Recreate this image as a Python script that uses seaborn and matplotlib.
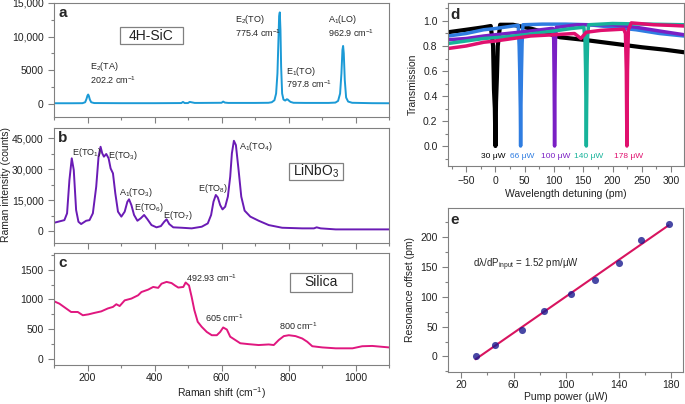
import matplotlib
matplotlib.use("Agg")
import numpy as np
import pandas as pd
import matplotlib.pyplot as plt
from matplotlib.patches import Rectangle
from matplotlib.ticker import MultipleLocator, FuncFormatter
import seaborn as sns

# style
sns.set_style("ticks")
plt.rcParams["font.family"] = ["Liberation Sans", "DejaVu Sans"]
plt.rcParams["mathtext.fontset"] = "custom"
plt.rcParams["mathtext.rm"] = "Liberation Sans"
plt.rcParams["mathtext.it"] = "Liberation Sans:italic"
plt.rcParams["mathtext.bf"] = "Liberation Sans:bold"
plt.rcParams["mathtext.default"] = "regular"

# ---- data: a) 4H-SiC Raman spectrum
sic_shift = [100, 150, 185, 193, 197, 200, 202, 204, 207, 211, 220, 300, 400, 480, 485, 490,
             500, 505, 520, 540, 600, 605, 610, 620, 700, 740, 750, 758, 763, 767, 770, 772,
             774, 776, 778, 781, 785, 790, 795, 798, 801, 806, 815, 850, 920, 940, 948, 954,
             958, 961, 963, 965, 968, 972, 978, 990, 1050, 1100]
sic_counts = [50, 50, 60, 200, 700, 1200, 1350, 1150, 600, 200, 80, 60, 60, 80, 250, 80,
              80, 250, 100, 100, 120, 300, 150, 100, 100, 120, 200, 500, 1500, 4500, 9500, 13000,
              13600, 11000, 5500, 1500, 600, 450, 650, 600, 450, 250, 120, 100, 100, 150, 400, 1500,
              4500, 8000, 8600, 7500, 3500, 900, 300, 120, 60, 50]

# ---- data: b) LiNbO3 Raman spectrum
ln_shift = [100, 131, 139, 146, 153, 159, 166, 173, 181, 196, 206, 216, 226, 233, 239, 244,
            249, 256, 263, 269, 276, 283, 291, 301, 311, 319, 324, 331, 339, 349, 359, 369,
            379, 391, 406, 419, 429, 436, 444, 456, 481, 511, 541, 559, 569, 576, 583, 589,
            596, 603, 611, 619, 626, 631, 637, 643, 651, 659, 669, 686, 711, 741, 781, 841,
            876, 884, 896, 941, 1021, 1100]
ln_counts = [4000, 5300, 8600, 24700, 35300, 29600, 10200, 4500, 3400, 5000, 5300, 8600, 21500, 36100, 40900, 37700,
             36100, 37400, 35300, 30400, 28000, 18300, 9400, 7000, 9400, 14200, 15400, 12600, 7800, 5000, 6200, 7800,
             5700, 2900, 1800, 2400, 4500, 5700, 3400, 1800, 1600, 1300, 2100, 3700, 7800, 14200, 17500, 16300,
             12600, 10500, 11800, 16700, 26400, 37700, 43800, 41700, 29600, 16700, 9900, 7000, 5000, 2900, 1600, 1300,
             1300, 1800, 1300, 800, 800, 800]

# ---- data: c) silica Raman spectrum
si_shift = [100, 116, 136, 151, 171, 186, 203, 221, 241, 261, 276, 286, 296, 311, 331, 351,
            361, 381, 396, 411, 421, 436, 451, 461, 471, 486, 493, 503, 511, 519, 529, 541,
            556, 571, 586, 596, 605, 616, 626, 641, 656, 681, 711, 741, 756, 771, 786, 801,
            821, 841, 856, 871, 901, 941, 991, 1020, 1050, 1080, 1100]
si_counts = [970, 930, 850, 790, 790, 735, 750, 775, 800, 850, 875, 920, 890, 985, 1015, 1070,
             1125, 1165, 1210, 1195, 1265, 1295, 1275, 1235, 1200, 1210, 1285, 1235, 1040, 820, 625, 540,
             455, 400, 400, 455, 530, 495, 375, 320, 265, 250, 235, 245, 235, 320, 385, 400,
             385, 345, 290, 215, 195, 180, 180, 215, 220, 205, 195]

# ---- data: d) transmission vs detuning at five pump powers
pump_labels = ["30 μW", "66 μW", "100 μW", "140 μW", "178 μW"]
label_pos = [-4, 46, 103, 159, 227]
det_30 = [-81, -50, -20, -8, -4, -2.5, -1, 0, 1, 2.5, 4, 8, 30, 60, 90, 110, 150, 200, 250, 290, 322]
tr_30 = [0.91, 0.93, 0.95, 0.96, 0.80, 0.45, 0.30, 0.0, 0.35, 0.55, 0.80, 0.97, 0.97, 0.94, 0.90, 0.87, 0.85, 0.82, 0.79, 0.77, 0.75]
det_66 = [-81, -50, -20, 0, 30, 39, 40.5, 41.5, 42.5, 43, 43.5, 44.5, 45.5, 47, 80, 120, 160, 200, 240, 280, 322]
tr_66 = [0.88, 0.90, 0.93, 0.94, 0.96, 0.965, 0.80, 0.60, 0.30, 0.0, 0.30, 0.60, 0.82, 0.97, 0.975, 0.975, 0.97, 0.95, 0.93, 0.90, 0.88]
det_100 = [-81, -50, -20, 20, 60, 95, 98, 99.5, 100.3, 101, 101.7, 102.5, 104, 107, 140, 200, 240, 280, 322]
tr_100 = [0.85, 0.86, 0.88, 0.90, 0.92, 0.94, 0.94, 0.85, 0.50, 0.0, 0.50, 0.85, 0.95, 0.95, 0.97, 0.97, 0.95, 0.92, 0.89]
det_140 = [-81, -50, -20, 10, 50, 100, 130, 151, 153, 154, 154.7, 155.2, 155.7, 156.5, 157.5, 159, 200, 260, 322]
tr_140 = [0.82, 0.84, 0.86, 0.87, 0.89, 0.92, 0.94, 0.95, 0.85, 0.60, 0.30, 0.0, 0.30, 0.65, 0.88, 0.97, 0.98, 0.975, 0.97]
det_178 = [-81, -50, -20, 0, 30, 60, 100, 135, 146, 155, 180, 219, 222, 223.5, 224.5, 225.5, 227, 232, 270, 300, 322]
tr_178 = [0.78, 0.80, 0.83, 0.84, 0.86, 0.88, 0.89, 0.90, 0.86, 0.91, 0.925, 0.935, 0.90, 0.60, 0.0, 0.60, 0.93, 0.985, 0.97, 0.965, 0.96]

# ---- data: e) resonance offset vs pump power
pump_power = [31, 46, 66, 83, 104, 122, 140, 157, 178]
res_offset = [0, 20, 44, 77, 104, 129, 156, 195, 223]

W, H = 685, 404
fig = plt.figure(figsize=(W / 100, H / 100), dpi=100)


def box(left, top, right, bottom):
    return [left / W, (H - bottom) / H, (right - left) / W, (bottom - top) / H]


def comma_fmt(v, pos):
    return f"{v:,.0f}" if abs(v) >= 10000 else f"{v:.0f}"


def style_axes(ax):
    for s in ax.spines.values():
        s.set_color("#808080")
        s.set_linewidth(0.8)
    ax.tick_params(which="both", direction="out", colors="#808080", labelcolor="#222222",
                   labelsize=7.5, width=0.8)
    ax.tick_params(which="major", length=4)
    ax.tick_params(which="minor", length=2.5)


def label_box(ax, x, y, w, h, txt):
    ax.add_patch(Rectangle((x, y), w, h, transform=ax.transAxes, fill=False,
                           edgecolor="#808080", linewidth=0.9, zorder=5))
    ax.text(x + w / 2, y + h / 2, txt, transform=ax.transAxes, ha="center", va="center",
            fontsize=10, color="#222222")


def panel_letter(ax, s):
    ax.text(0.012, 0.97, s, transform=ax.transAxes, ha="left", va="top",
            fontsize=11, fontweight="bold")


ax_a = fig.add_axes(box(54, 3, 389, 117))
ax_b = fig.add_axes(box(54, 128, 389, 243))
ax_c = fig.add_axes(box(54, 253, 389, 365))
ax_d = fig.add_axes(box(448, 3, 684, 166))
ax_e = fig.add_axes(box(448, 208, 683, 372))

# a
sns.lineplot(x=sic_shift, y=sic_counts, ax=ax_a, color="#1b9ad6", lw=1.4, estimator=None)
ax_a.set_ylim(-2000, 15000)
ax_a.yaxis.set_major_locator(MultipleLocator(5000))
ax_a.yaxis.set_minor_locator(MultipleLocator(2500))
ax_a.yaxis.set_major_formatter(FuncFormatter(comma_fmt))
label_box(ax_a, 0.197, 0.64, 0.188, 0.149, "4H-SiC")
ax_a.text(206, 2600, "E$_2$(TA)\n202.2 cm$^{-1}$", fontsize=6.5, va="bottom", linespacing=1.1)
ax_a.text(640, 9700, "E$_2$(TO)\n775.4 cm$^{-1}$", fontsize=6.5, va="bottom", linespacing=1.1)
ax_a.text(792, 2000, "E$_1$(TO)\n797.8 cm$^{-1}$", fontsize=6.5, va="bottom", linespacing=1.1)
ax_a.text(917, 9700, "A$_1$(LO)\n962.9 cm$^{-1}$", fontsize=6.5, va="bottom", linespacing=1.1)
panel_letter(ax_a, "a")

# b
sns.lineplot(x=ln_shift, y=ln_counts, ax=ax_b, color="#6a1bb5", lw=1.4, estimator=None)
ax_b.set_ylim(-5800, 50000)
ax_b.yaxis.set_major_locator(MultipleLocator(15000))
ax_b.yaxis.set_minor_locator(MultipleLocator(7500))
ax_b.yaxis.set_major_formatter(FuncFormatter(comma_fmt))
label_box(ax_b, 0.701, 0.548, 0.161, 0.148, "LiNbO$_3$")
for xx, yy, t in [(155, 37900, "E(TO$_1$)"), (260, 36500, "E(TO$_3$)"), (295, 18600, "A$_1$(TO$_3$)"),
                  (340, 11600, "E(TO$_6$)"), (426, 7700, "E(TO$_7$)"), (530, 20700, "E(TO$_8$)"),
                  (652, 41200, "A$_1$(TO$_4$)")]:
    ax_b.text(xx, yy, t, fontsize=6.5, va="center")
panel_letter(ax_b, "b")

# c
sns.lineplot(x=si_shift, y=si_counts, ax=ax_c, color="#e0177f", lw=1.4, estimator=None)
ax_c.set_ylim(-100, 1780)
ax_c.yaxis.set_major_locator(MultipleLocator(500))
ax_c.yaxis.set_minor_locator(MultipleLocator(250))
ax_c.yaxis.set_major_formatter(FuncFormatter(comma_fmt))
label_box(ax_c, 0.704, 0.652, 0.185, 0.170, "Silica")
ax_c.text(495, 1366, "492.93 cm$^{-1}$", fontsize=6.5, va="center")
ax_c.text(551, 690, "605 cm$^{-1}$", fontsize=6.5, va="center")
ax_c.text(771, 552, "800 cm$^{-1}$", fontsize=6.5, va="center")
panel_letter(ax_c, "c")

for ax in (ax_a, ax_b, ax_c):
    ax.set_xlim(100, 1100)
    ax.xaxis.set_major_locator(MultipleLocator(200))
    ax.xaxis.set_minor_locator(MultipleLocator(100))
    ax.set_ylabel("")
    style_axes(ax)
ax_a.tick_params(labelbottom=False)
ax_b.tick_params(labelbottom=False)
ax_c.tick_params(axis="x", pad=1.5)
ax_c.set_xlabel("Raman shift (cm$^{-1}$)", fontsize=7.5, color="#222222", labelpad=2)
fig.text(6 / W, (H - 185) / H, "Raman intensity (counts)", rotation=90, ha="center", va="center",
         fontsize=7.5, color="#222222")

# d
d_colors = ["#000000", "#2f7de1", "#7a1fc4", "#17b39a", "#e0106e"]
d_series = [(det_30, tr_30), (det_66, tr_66), (det_100, tr_100), (det_140, tr_140), (det_178, tr_178)]
for (xs, ys), c, lw in zip(d_series, d_colors, [3.0, 2.5, 2.5, 2.5, 2.5]):
    sns.lineplot(x=xs, y=ys, ax=ax_d, color=c, lw=lw, estimator=None, sort=False)
for xx, t, c in zip(label_pos, pump_labels, d_colors):
    ax_d.text(xx, -0.08, t, color=c, fontsize=6, ha="center", va="center")
ax_d.set_xlim(-81, 322)
ax_d.set_ylim(-0.16, 1.144)
ax_d.xaxis.set_major_locator(MultipleLocator(50))
ax_d.xaxis.set_minor_locator(MultipleLocator(25))
ax_d.yaxis.set_major_locator(MultipleLocator(0.2))
ax_d.yaxis.set_minor_locator(MultipleLocator(0.1))
ax_d.yaxis.set_major_formatter(FuncFormatter(lambda v, p: f"{v:.1f}"))
style_axes(ax_d)
ax_d.set_xlabel("Wavelength detuning (pm)", fontsize=7.5, color="#222222", labelpad=2)
ax_d.set_ylabel("Transmission", fontsize=7.5, color="#222222")
panel_letter(ax_d, "d")

# e
sns.regplot(x=pump_power, y=res_offset, ax=ax_e, ci=None,
            scatter_kws=dict(s=26, color="#1a1a8f", zorder=3, linewidths=0),
            line_kws=dict(color="#d8145f", lw=1.5))
ax_e.set_xlim(10, 189)
ax_e.set_ylim(-26, 249)
ax_e.xaxis.set_major_locator(MultipleLocator(40, offset=20))
ax_e.xaxis.set_minor_locator(MultipleLocator(20))
ax_e.yaxis.set_major_locator(MultipleLocator(50))
ax_e.yaxis.set_minor_locator(MultipleLocator(25))
ax_e.text(29, 153, "d$\\lambda$/dP$_{input}$ = 1.52 pm/μW", fontsize=7, va="center")
style_axes(ax_e)
ax_e.tick_params(axis="x", pad=2)
ax_e.set_xlabel("Pump power (μW)", fontsize=7.5, color="#222222", labelpad=1)
ax_e.set_ylabel("Resonance offset (pm)", fontsize=7.5, color="#222222")
panel_letter(ax_e, "e")

fig.savefig("out.png", dpi=100)
